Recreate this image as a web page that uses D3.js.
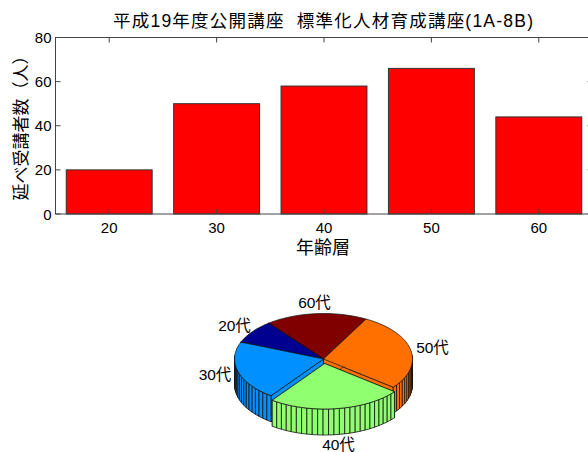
<!DOCTYPE html>
<html><head><meta charset="utf-8">
<script src="https://cdn.jsdelivr.net/npm/d3@7/dist/d3.min.js"></script>
<style>
html,body{margin:0;padding:0;background:#fff;overflow:hidden}
text{fill:#000;font-family:"Liberation Sans","Noto Sans CJK JP",sans-serif}
</style></head><body><script>
const titleText = "平成19年度公開講座  標準化人材育成講座(1A-8B)";
const xTitle = "年齢層";
const yTitle = "延べ受講者数（人）";
const ages = [20, 30, 40, 50, 60];
const counts = [20, 50, 58, 66, 44];
const yTicks = [0, 20, 40, 60, 80];
const pieLabels = ["20代", "30代", "40代", "50代", "60代"];
const pieColors = ["#000090", "#0090ff", "#90ff70", "#ff7000", "#800000"];
const exploded = [false, false, true, false, false];

const W = 588, H = 452;
const svg = d3.select("body").append("svg").attr("width", W).attr("height", H).style("display","block");

// ---- bar chart
const x = d3.scaleLinear().domain([15, 65]).range([55.5, 592.5]);
const y = d3.scaleLinear().domain([0, 80]).range([214, 37.5]);
const barW = x(8) - x(0);
const axisCol = "#444";

svg.selectAll("rect.bar").data(ages).join("rect").attr("class","bar")
  .attr("x", d => x(d) - barW/2).attr("width", barW)
  .attr("y", (d,i) => y(counts[i])).attr("height", (d,i) => y(0) - y(counts[i]))
  .attr("fill", "#f00").attr("stroke", "#333").attr("stroke-width", 1);

const frame = svg.append("g").attr("stroke", axisCol).attr("stroke-width", 1).attr("fill","none");
frame.append("rect").attr("x", x.range()[0]).attr("y", y(80)).attr("width", x.range()[1]-x.range()[0]).attr("height", y(0)-y(80));
const tickLen = 5;
frame.selectAll("path.xt").data(ages).join("path").attr("class","xt")
  .attr("d", d => `M${x(d)},${y(0)}v${-tickLen}M${x(d)},${y(80)}v${tickLen}`);
frame.selectAll("path.yt").data(yTicks).join("path").attr("class","yt")
  .attr("d", d => `M${x.range()[0]},${y(d)}h${tickLen}M${x.range()[1]},${y(d)}h${-tickLen}`);

svg.selectAll("text.xl").data(ages).join("text").attr("class","xl")
  .attr("x", d => x(d)).attr("y", 232.5).attr("text-anchor","middle").attr("font-size",15).text(d => d);
svg.selectAll("text.yl").data(yTicks).join("text").attr("class","yl")
  .attr("x", 51.5).attr("y", d => y(d)+5.5).attr("text-anchor","end").attr("font-size",15).text(d => d);

svg.append("text").attr("x", 323).attr("y", 27).attr("text-anchor","middle")
  .attr("font-size",17.5).attr("textLength",420).style("white-space","pre").text(titleText);
svg.append("text").attr("x", 323).attr("y", 254).attr("text-anchor","middle").attr("font-size",18).text(xTitle);
svg.append("text").attr("transform","translate(27,124) rotate(-90)").attr("text-anchor","middle")
  .attr("font-size",17).text(yTitle);

// ---- 3-D pie
const cx = 323.5, cy = 359, rx = 89, ry = 45.5, depth = 26, explode = 0.1;
const startAngle = -38 * Math.PI / 180;
const pieGen = d3.pie().sort(null).value(d => d);
const arcs = pieGen(counts);
const ptAt = (a, r, off) => [off[0] + cx + r * rx * Math.sin(a), off[1] + cy - r * ry * Math.cos(a)];
const slices = arcs.map((a, i) => {
  const a0 = startAngle - a.startAngle, a1 = startAngle - a.endAngle, mid = (a0 + a1) / 2;
  const off = exploded[i] ? [explode * rx * Math.sin(mid), -explode * ry * Math.cos(mid)] : [0, 0];
  const n = Math.ceil(100 * (a.endAngle - a.startAngle) / (2 * Math.PI));
  const angles = d3.range(n + 1).map(k => a0 + (a1 - a0) * k / n);
  return {i, a0, a1, mid, off, angles};
});
const line = d3.line();
const g = svg.append("g").attr("stroke","#111").attr("stroke-width",0.8).attr("stroke-linejoin","round");
const drawOrder = [4, 0, 3, 1, 2];
drawOrder.forEach(idx => {
  const s = slices[idx], col = pieColors[idx];
  [s.a0, s.a1].forEach(a => {
    const p = ptAt(a, 1, s.off), c = ptAt(a, 0, s.off);
    g.append("path").attr("fill", col)
      .attr("d", line([c, p, [p[0], p[1]+depth], [c[0], c[1]+depth]]) + "Z");
  });
  d3.pairs(s.angles).forEach(([p, q]) => {
    const cp = Math.cos(p), cq = Math.cos(q);
    if (cp > 0.02 && cq > 0.02) return;
    const P = ptAt(p, 1, s.off), Q = ptAt(q, 1, s.off);
    g.append("path").attr("fill", col)
      .attr("d", line([P, Q, [Q[0], Q[1]+depth], [P[0], P[1]+depth]]) + "Z");
  });
  g.append("path").attr("fill", col).attr("stroke-width",0.7)
    .attr("d", line([ptAt(0, 0, s.off), ...s.angles.map(a => ptAt(a, 1, s.off))]) + "Z");
});

const labelPos = [[234.5, 325], [215, 374], [338.5, 444.5], [432.5, 347], [314.5, 302]];
svg.selectAll("text.pl").data(pieLabels).join("text").attr("class","pl")
  .attr("x", (d,i) => labelPos[i][0]).attr("y", (d,i) => labelPos[i][1] + 5.5)
  .attr("text-anchor","middle").attr("font-size",15.5).text(d => d);
</script></body></html>
